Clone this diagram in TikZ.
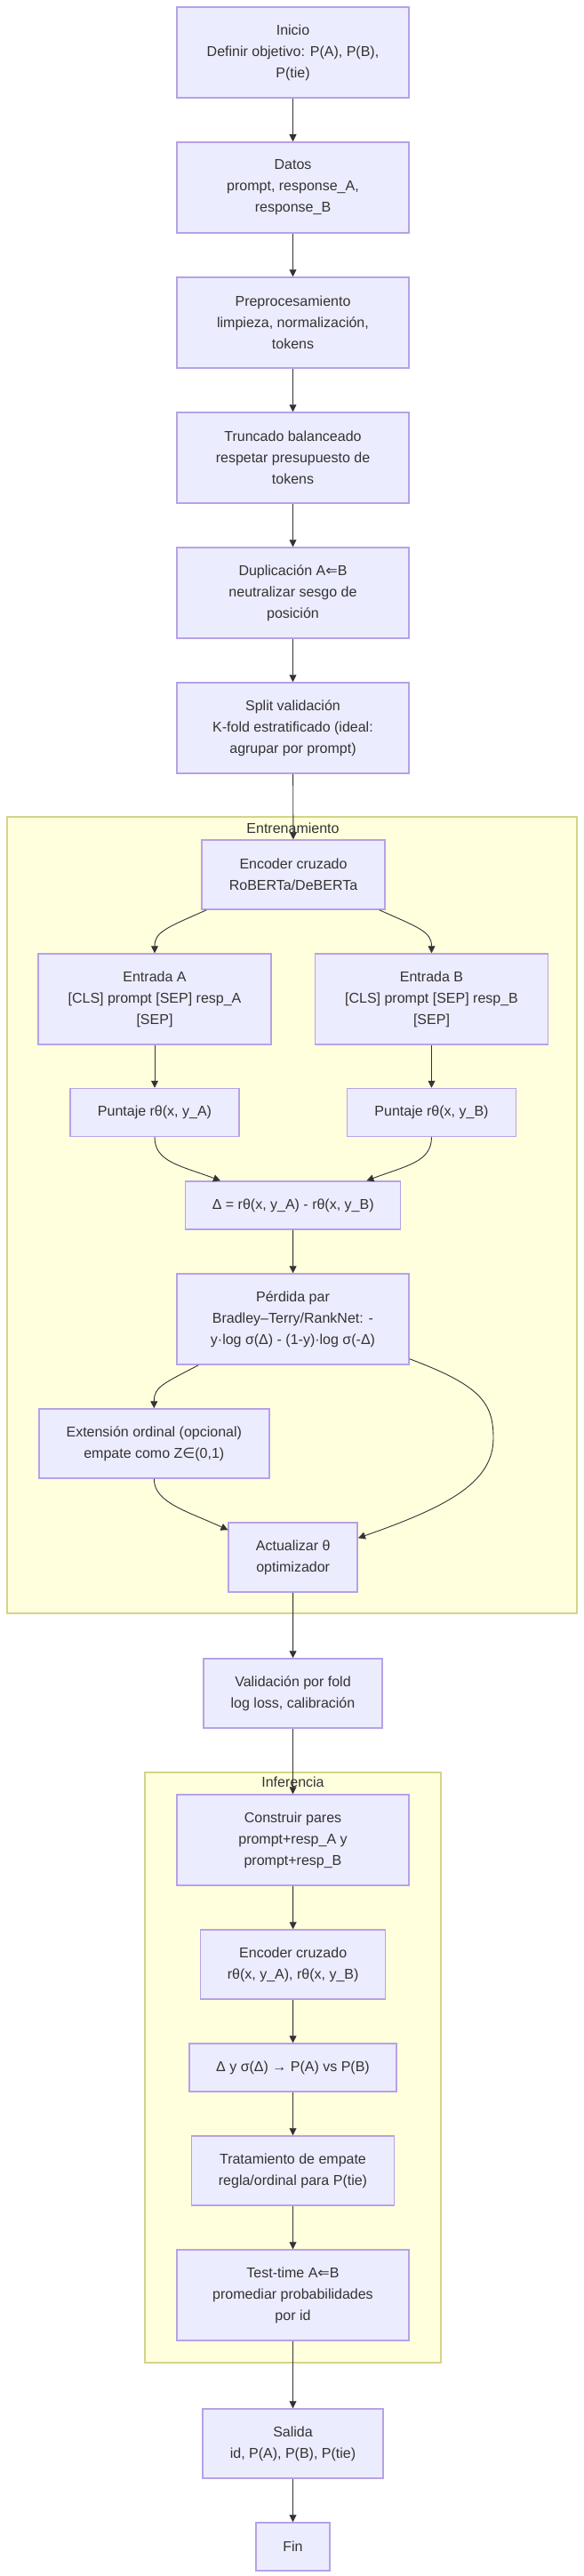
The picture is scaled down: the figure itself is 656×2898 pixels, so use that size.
\documentclass[tikz,border=0pt]{standalone}
\usepackage{fontspec}
\setmainfont{Liberation Sans}
\newfontfamily\dejavu{DejaVu Sans}
\usetikzlibrary{arrows.meta,calc}
\definecolor{nodefill}{HTML}{ECECFF}
\definecolor{nodeborder}{HTML}{B6A2E8}
\definecolor{clusterfill}{HTML}{FFFFDE}
\definecolor{clusterborder}{HTML}{D4D488}
\definecolor{txt}{HTML}{333333}
\definecolor{edge}{HTML}{333333}
\newcommand{\lar}{{\dejavu ⇐}}
\newcommand{\elem}{{\dejavu ∈}}
\begin{document}
\begin{tikzpicture}[x=1pt,y=-1pt,
  box/.style={draw=nodeborder,fill=nodefill,line width=1.5pt,align=center,
    text=txt,font=\fontsize{16}{24}\selectfont,inner sep=0pt},
  cluster/.style={draw=clusterborder,fill=clusterfill,line width=2pt},
  clabel/.style={text=txt,font=\fontsize{16}{24}\selectfont,inner sep=0pt},
  arr/.style={draw=edge,line width=0.9pt,-{Triangle[length=8pt,width=8pt]}}]
\useasboundingbox (0,0) rectangle (656,2898);
% clusters
\draw[cluster] (8,919) rectangle (649,1815);
\node[clabel] (lt) at (329.5,932) {Entrenamiento};
\draw[cluster] (163,1994) rectangle (496,2658);
\node[clabel] (li) at (329.5,2005) {Inferencia};
% main column
\node[box,minimum width=261pt,minimum height=102pt] (inicio) at (329.5,59) {Inicio\\Definir objetivo: P(A), P(B),\\P(tie)};
\node[box,minimum width=261pt,minimum height=102pt] (datos) at (329.5,211) {Datos\\prompt, response\_A,\\response\_B};
\node[box,minimum width=261pt,minimum height=102pt] (prep) at (329.5,363) {Preprocesamiento\\limpieza, normalización,\\tokens};
\node[box,minimum width=261pt,minimum height=102pt] (trunc) at (329.5,515) {Truncado balanceado\\respetar presupuesto de\\tokens};
\node[box,minimum width=261pt,minimum height=102pt] (dup) at (329.5,667) {Duplicación A\lar B\\neutralizar sesgo de\\posición};
\node[box,minimum width=261pt,minimum height=102pt] (split) at (329.5,819) {Split validación\\K-fold estratificado (ideal:\\agrupar por prompt)};
% training
\node[box,minimum width=206pt,minimum height=78pt] (enc) at (330,984) {Encoder cruzado\\RoBERTa/DeBERTa};
\node[box,minimum width=262pt,minimum height=102pt] (ea) at (174,1124) {Entrada A\\{[CLS] prompt [SEP] resp\_A}\\{[SEP]}};
\node[box,minimum width=262pt,minimum height=102pt] (eb) at (485.5,1124) {Entrada B\\{[CLS] prompt [SEP] resp\_B}\\{[SEP]}};
\node[box,minimum width=190pt,minimum height=54pt] (pa) at (174,1251.5) {Puntaje rθ(x, y\_A)};
\node[box,minimum width=190pt,minimum height=54pt] (pb) at (485.5,1251.5) {Puntaje rθ(x, y\_B)};
\node[box,minimum width=242pt,minimum height=54pt] (delta) at (329.7,1356) {Δ = rθ(x, y\_A) - rθ(x, y\_B)};
\node[box,minimum width=261pt,minimum height=102pt] (loss) at (329.5,1484) {Pérdida par\\Bradley–Terry/RankNet: -\\y·log σ(Δ) - (1-y)·log σ(-Δ)};
\node[box,minimum width=259pt,minimum height=78pt] (ext) at (173.3,1624) {Extensión ordinal (opcional)\\empate como Z\elem(0,1)};
\node[box,minimum width=145pt,minimum height=78pt] (upd) at (329.7,1752) {Actualizar θ\\optimizador};
\coordinate (bend) at (555,1618);
% validation
\node[box,minimum width=201pt,minimum height=78pt] (val) at (329.5,1905) {Validación por fold\\log loss, calibración};
% inference
\node[box,minimum width=261pt,minimum height=102pt] (pairs) at (329.5,2070) {Construir pares\\prompt+resp\_A y\\prompt+resp\_B};
\node[box,minimum width=208pt,minimum height=78pt] (enc2) at (329.7,2210) {Encoder cruzado\\rθ(x, y\_A), rθ(x, y\_B)};
\node[box,minimum width=233pt,minimum height=54pt] (sig) at (329.5,2326) {Δ y σ(Δ) → P(A) vs P(B)};
\node[box,minimum width=228pt,minimum height=78pt] (tie) at (329.5,2442) {Tratamiento de empate\\regla/ordinal para P(tie)};
\node[box,minimum width=261pt,minimum height=102pt] (tta) at (329.5,2582) {Test-time A\lar B\\promediar probabilidades\\por id};
\node[box,minimum width=203pt,minimum height=78pt] (out) at (329.5,2749) {Salida\\id, P(A), P(B), P(tie)};
\node[box,minimum width=83pt,minimum height=54pt] (fin) at (329.5,2865) {Fin};
% edges
\draw[arr] (inicio) -- (datos);
\draw[arr] (datos) -- (prep);
\draw[arr] (prep) -- (trunc);
\draw[arr] (trunc) -- (dup);
\draw[arr] (dup) -- (split);
\draw[arr] (split) -- (enc);
\draw[arr] ($(enc.south west)+(6,0)$) .. controls +(-45,20) and +(0,-24) .. (ea.north);
\draw[arr] ($(enc.south east)+(-7,0)$) .. controls +(45,20) and +(0,-24) .. (eb.north);
\draw[arr] (ea) -- (pa);
\draw[arr] (eb) -- (pb);
\draw[arr] (pa.south) .. controls +(0,28) and +(-45,-17) .. ($(delta.north west)+(40,0)$);
\draw[arr] (pb.south) .. controls +(0,28) and +(45,-17) .. ($(delta.north east)+(-39,0)$);
\draw[arr] (delta) -- (loss);
\draw[arr] ($(loss.south west)+(25,0)$) .. controls +(-40,21) and +(0,-24) .. (ext.north);
\draw[arr] (ext.south) .. controls +(0,27) and +(-45,-21) .. ($(upd.north west)+(0,9)$);
\draw[arr] ($(loss.south east)+(0,-7)$) .. controls +(80,30) and +(0,-40) .. (bend)
   .. controls +(0,50) and +(100,-35) .. ($(upd.north east)+(0,18)$);
\draw[arr] (upd) -- (val);
\draw[arr] (val) -- (pairs);
\draw[arr] (pairs) -- (enc2);
\draw[arr] (enc2) -- (sig);
\draw[arr] (sig) -- (tie);
\draw[arr] (tie) -- (tta);
\draw[arr] (tta) -- (out);
\draw[arr] (out) -- (fin);
\end{tikzpicture}
\end{document}
